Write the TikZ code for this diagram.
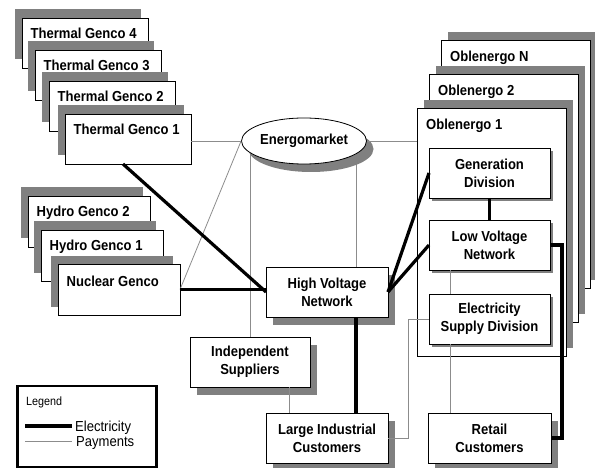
\documentclass[tikz,border=0pt]{standalone}
\usepackage{fontspec}
\setmainfont{Liberation Sans}
\newfontfamily\narrowf{Liberation Sans}[FakeStretch=0.9]
\usetikzlibrary{shapes.geometric,shadows,calc}
\pgfdeclarelayer{bg}
\pgfsetlayers{bg,main}
\begin{document}
\begin{tikzpicture}[x=1pt,y=-1pt,
  box/.style={draw=black,line width=0.8pt,fill=white,inner sep=0pt,outer sep=0pt},
  bf/.style={font=\narrowf\fontsize{14.5}{18}\selectfont\bfseries},
  stl/.style={bf,anchor=base west,inner sep=0pt},
  shTL/.style={drop shadow={shadow xshift=-7pt,shadow yshift=8.5pt,fill=black!50,opacity=1}},
  shTR/.style={drop shadow={shadow xshift=6.5pt,shadow yshift=8pt,fill=black!50,opacity=1}},
  shBR/.style={drop shadow={shadow xshift=7pt,shadow yshift=-8pt,fill=black!50,opacity=1}},
  shS/.style={drop shadow={shadow xshift=3pt,shadow yshift=-3pt,fill=black!50,opacity=1}},
  gen/.style={box,anchor=north west,minimum width=126pt,minimum height=50pt},
  hyd/.style={box,anchor=north west,minimum width=122pt,minimum height=51pt},
  obl/.style={box,anchor=north west,minimum width=149pt,minimum height=248pt},
  divbox/.style={box,bf,align=center,anchor=north west,minimum width=121pt,minimum height=50pt},
  mainbox/.style={box,bf,align=center,anchor=north west,minimum width=122pt,minimum height=50pt},
  elec/.style={line width=3.2pt,black},
  pay/.style={line width=0.8pt,black!45},
  legtxt/.style={anchor=base west,inner sep=0pt,font=\narrowf\fontsize{14.5}{16}\selectfont},
]
\useasboundingbox (0,0) rectangle (595,468);
% thermal stack
\node[gen,shTL] (TG4) at (22,18) {};
\node[stl] (TG4t) at (30.5,39) {Thermal Genco 4};
\node[gen,shTL] (TG3) at (35,50) {};
\node[stl] (TG3t) at (43.5,71) {Thermal Genco 3};
\node[gen,shTL] (TG2) at (49,81) {};
\node[stl] (TG2t) at (57.5,102) {Thermal Genco 2};
\node[gen,shTL] (TG1) at (65,114) {};
\node[stl] (TG1t) at (73.5,135) {Thermal Genco 1};
% hydro / nuclear stack
\node[hyd,shTL] (HG2) at (28,196) {};
\node[stl] (HG2t) at (36.5,217) {Hydro Genco 2};
\node[hyd,shTL] (HG1) at (41,230) {};
\node[stl] (HG1t) at (49.5,251) {Hydro Genco 1};
\node[hyd,shTL] (NG) at (58,264) {};
\node[stl] (NGt) at (66.5,286) {Nuclear Genco};
% oblenergo stack
\node[obl,shTR] (ON) at (441,40) {};
\node[stl] (ONt) at (450,62) {Oblenergo N};
\node[obl,shTR] (O2) at (429,74) {};
\node[stl] (O2t) at (438,96) {Oblenergo 2};
\node[obl,shTR] (O1) at (417,108) {};
\node[stl] (O1t) at (426,130) {Oblenergo 1};
\node[divbox,shS] (GD) at (429,148) {Generation\\Division};
\node[divbox,shS] (LVN) at (429,220) {Low Voltage\\Network};
\node[divbox,shS] (ESD) at (429,294) {Electricity\\Supply Division};
% market and main boxes
\node[ellipse,draw,line width=0.8pt,fill=white,shBR,minimum width=125pt,minimum height=46pt,inner sep=0pt,bf] (EM) at (304,141) {Energomarket};
\node[mainbox,shBR] (HVN) at (266,267) {High Voltage\\Network};
\node[mainbox,shBR,minimum width=120pt] (IS) at (190,337) {Independent\\Suppliers};
\node[mainbox,shBR] (LIC) at (266,413) {Large Industrial\\Customers};
\node[mainbox,shBR,minimum width=123pt] (RC) at (428,413) {Retail\\Customers};
% legend
\node[draw,line width=2.5pt,anchor=north west,minimum width=139pt,minimum height=81pt,inner sep=0pt] (LG) at (16.25,384.5) {};
\node[anchor=base west,inner sep=0pt,font=\narrowf\fontsize{12}{14}\selectfont] (LGt) at (26,405) {Legend};
\coordinate (e1) at (25,426);
\coordinate (e2) at (72,426);
\node[legtxt] (LGe) at (75,431) {Electricity};
\coordinate (p1) at (25,441);
\coordinate (p2) at (72,441);
\node[legtxt] (LGp) at (76,446) {Payments};
% payments behind the market
\coordinate (col) at ($(HVN.north)+(29,0)$);
\begin{pgfonlayer}{bg}
\draw[pay] (IS.north |- EM.center) -- (IS.north);
\draw[pay] (col |- EM.center) -- (col);
\end{pgfonlayer}
% payments
\draw[pay] (EM.west -| TG1.east) -- (EM.west);
\draw[pay] (EM.east) -- (EM.east -| O1.west);
\draw[pay] (NG.east) -- (EM.west);
\coordinate (c2) at ($(IS.south)+(39,0)$);
\draw[pay] (c2) -- (c2 |- LIC.north);
\draw[pay] (LIC.east) -- ++(20,0) |- (ESD.west);
\coordinate (c3) at ($(LVN.south)+(-39,0)$);
\draw[pay] (c3) -- (c3 |- ESD.north);
\draw[pay] (c3 |- ESD.south) -- (c3 |- RC.north);
\draw[pay] (p1) -- (p2);
% electricity
\draw[elec] ($(TG1.south)+(-5,0)$) -- (HVN.west);
\draw[elec] (NG.east) -- (NG.east -| HVN.west);
\draw[elec] (HVN.east) -- (GD.west);
\draw[elec] (HVN.east) -- (LVN.west);
\draw[elec] (GD.south) -- (LVN.north);
\draw[elec] (LVN.east) -- ++(12,0) |- (RC.east);
\draw[elec] (col |- HVN.south) -- (col |- LIC.north);
\draw[elec] (e1) -- (e2);
\end{tikzpicture}
\end{document}
